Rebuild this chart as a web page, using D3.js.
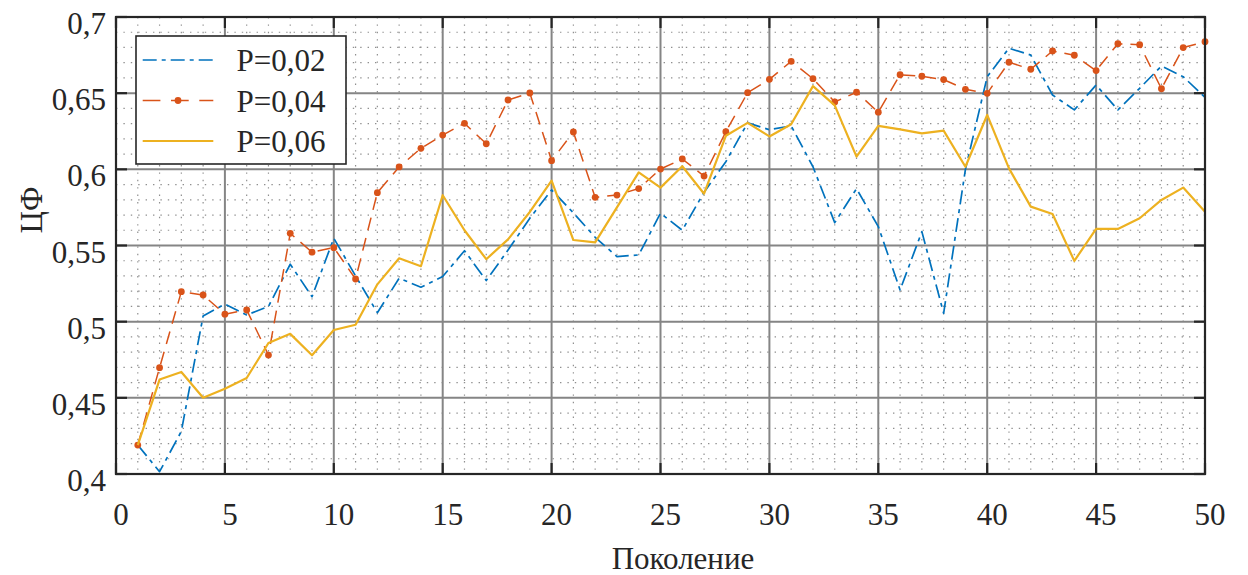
<!DOCTYPE html>
<html>
<head>
<meta charset="utf-8">
<script src="https://cdn.jsdelivr.net/npm/d3@7"></script>
<style>
  html, body { margin: 0; padding: 0; background: #fff; }
  svg { display: block; }
</style>
</head>
<body>
<svg id="chart" width="1248" height="575"></svg>
<script>
// Generation numbers
const generations = d3.range(1, 51);

// Objective value per generation for each mutation probability
const p002 = [0.419, 0.4015, 0.428, 0.5037, 0.5116, 0.5044, 0.510, 0.5377, 0.5164, 0.5548,
              0.530, 0.5059, 0.5285, 0.5226, 0.5296, 0.5466, 0.527, 0.547, 0.5679, 0.5865,
              0.5714, 0.5554, 0.5427, 0.5438, 0.5712, 0.560, 0.585, 0.605, 0.6305, 0.626,
              0.6285, 0.6017, 0.565, 0.5873, 0.5624, 0.5208, 0.5591, 0.5055, 0.600, 0.6608,
              0.6795, 0.675, 0.6488, 0.639, 0.6554, 0.639, 0.6532, 0.6678, 0.6608, 0.6473];

const p004 = [0.419, 0.4698, 0.5197, 0.5175, 0.5049, 0.5077, 0.4781, 0.558, 0.5456, 0.5486,
              0.528, 0.5847, 0.6016, 0.6138, 0.6225, 0.6302, 0.6168, 0.6455, 0.6501, 0.6057,
              0.6245, 0.5816, 0.5831, 0.5874, 0.6002, 0.6068, 0.5956, 0.6247, 0.6503, 0.6591,
              0.6709, 0.6595, 0.6442, 0.6506, 0.6375, 0.6621, 0.6611, 0.6589, 0.6525, 0.6499,
              0.6703, 0.6657, 0.6777, 0.6749, 0.6648, 0.6825, 0.6818, 0.6529, 0.6799, 0.6838];

const p006 = [0.419, 0.462, 0.467, 0.450, 0.456, 0.463, 0.486, 0.492, 0.478, 0.4945,
              0.498, 0.5245, 0.5416, 0.5364, 0.583, 0.560, 0.541, 0.554, 0.572, 0.5926,
              0.5536, 0.552, 0.575, 0.598, 0.588, 0.602, 0.584, 0.622, 0.6305, 0.6216,
              0.6296, 0.6546, 0.642, 0.6083, 0.6285, 0.6262, 0.6236, 0.6254, 0.6017, 0.6357,
              0.6006, 0.5755, 0.5707, 0.5399, 0.5609, 0.5609, 0.5679, 0.5799, 0.588, 0.5722];

const seriesNames = ["P=0,02", "P=0,04", "P=0,06"];
const xTicks = [0, 5, 10, 15, 20, 25, 30, 35, 40, 45, 50];
const yTicks = [0.4, 0.45, 0.5, 0.55, 0.6, 0.65, 0.7];
const yTickLabels = ["0,4", "0,45", "0,5", "0,55", "0,6", "0,65", "0,7"];

const series = [
  { name: seriesNames[0], values: p002, color: "#0072BD", width: 1.7, dash: "14,5,4,5", legendDash: "14,5,4,5", marker: false },
  { name: seriesNames[1], values: p004, color: "#D95319", width: 1.5, dash: "13,8", legendDash: "17.7,10.6", marker: true },
  { name: seriesNames[2], values: p006, color: "#EDB120", width: 2.2, dash: null, legendDash: null, marker: false }
];

const FONT = "'Liberation Serif', 'Times New Roman', serif";
const INK = "#262626";

const svg = d3.select("#chart");
const plotL = 116, plotR = 1205, plotT = 17, plotB = 474;

const x = d3.scaleLinear().domain([0, 50]).range([plotL, plotR]);
const y = d3.scaleLinear().domain([0.4, 0.7]).range([plotB, plotT]);

// Minor grid (dotted)
const minorX = d3.range(0, 51, 1).filter(v => v % 5 !== 0);
const minorY = d3.range(40, 71, 1).filter(v => v % 5 !== 0).map(v => v / 100);
const grid = svg.append("g");
grid.selectAll(".mx").data(minorX).join("line")
  .attr("x1", d => x(d)).attr("x2", d => x(d))
  .attr("y1", plotT).attr("y2", plotB)
  .attr("stroke", "#8f8f8f").attr("stroke-width", 1.2)
  .attr("stroke-dasharray", "1.4,6");
grid.selectAll(".my").data(minorY).join("line")
  .attr("x1", plotL).attr("x2", plotR)
  .attr("y1", d => y(d)).attr("y2", d => y(d))
  .attr("stroke", "#8f8f8f").attr("stroke-width", 1.2)
  .attr("stroke-dasharray", "1.4,6");

// Major grid
grid.selectAll(".gx").data(xTicks).join("line")
  .attr("x1", d => x(d)).attr("x2", d => x(d))
  .attr("y1", plotT).attr("y2", plotB)
  .attr("stroke", "#858585").attr("stroke-width", 2);
grid.selectAll(".gy").data(yTicks).join("line")
  .attr("x1", plotL).attr("x2", plotR)
  .attr("y1", d => y(d)).attr("y2", d => y(d))
  .attr("stroke", "#858585").attr("stroke-width", 2);

// Tick marks on all four sides, pointing inward
const ticks = svg.append("g").attr("stroke", INK).attr("stroke-width", 2.2);
const tl = 11;
ticks.selectAll(".tb").data(xTicks).join("line")
  .attr("x1", d => x(d)).attr("x2", d => x(d)).attr("y1", plotB).attr("y2", plotB - tl);
ticks.selectAll(".tt").data(xTicks).join("line")
  .attr("x1", d => x(d)).attr("x2", d => x(d)).attr("y1", plotT).attr("y2", plotT + tl);
ticks.selectAll(".tl").data(yTicks).join("line")
  .attr("x1", plotL).attr("x2", plotL + tl).attr("y1", d => y(d)).attr("y2", d => y(d));
ticks.selectAll(".tr").data(yTicks).join("line")
  .attr("x1", plotR).attr("x2", plotR - tl).attr("y1", d => y(d)).attr("y2", d => y(d));

// Data lines
const line = d3.line().x((d, i) => x(generations[i])).y(d => y(d));
const plot = svg.append("g");
series.forEach(s => {
  plot.append("path")
    .datum(s.values)
    .attr("d", line)
    .attr("fill", "none")
    .attr("stroke", s.color)
    .attr("stroke-width", s.width)
    .attr("stroke-linejoin", "round")
    .attr("stroke-dasharray", s.dash);
  if (s.marker) {
    plot.selectAll(null).data(s.values).join("circle")
      .attr("cx", (d, i) => x(generations[i]))
      .attr("cy", d => y(d))
      .attr("r", 3.4)
      .attr("fill", s.color);
  }
});

// Axes box
svg.append("rect")
  .attr("x", plotL).attr("y", plotT)
  .attr("width", plotR - plotL).attr("height", plotB - plotT)
  .attr("fill", "none").attr("stroke", INK).attr("stroke-width", 2.2);

// Text helper
function label(sel) {
  return sel.attr("font-family", FONT).attr("font-size", 31).attr("fill", INK);
}

// Tick labels
svg.append("g").selectAll("text").data(xTicks).join("text")
  .call(label)
  .attr("x", d => x(d) + 5)
  .attr("y", 525)
  .attr("text-anchor", "middle")
  .text(d => d);
svg.append("g").selectAll("text").data(yTicks).join("text")
  .call(label)
  .attr("x", 106)
  .attr("y", d => y(d) + 17)
  .attr("text-anchor", "end")
  .text((d, i) => yTickLabels[i]);

// Axis titles
svg.append("text").call(label)
  .attr("transform", "translate(42,210) rotate(-90)")
  .attr("text-anchor", "middle")
  .text("ЦФ");
svg.append("text").call(label)
  .attr("x", 683).attr("y", 569)
  .attr("text-anchor", "middle")
  .text("Поколение");

// Legend
const lg = svg.append("g");
lg.append("rect")
  .attr("x", 136).attr("y", 36).attr("width", 210).attr("height", 128)
  .attr("fill", "#fff").attr("stroke", INK).attr("stroke-width", 1.6);
const rowY = [60, 100.5, 141];
series.forEach((s, i) => {
  lg.append("line")
    .attr("x1", 142.7).attr("x2", 213.3)
    .attr("y1", rowY[i]).attr("y2", rowY[i])
    .attr("stroke", s.color).attr("stroke-width", s.width)
    .attr("stroke-dasharray", s.legendDash);
  if (s.marker) {
    lg.append("circle").attr("cx", 178).attr("cy", rowY[i]).attr("r", 3.4).attr("fill", s.color);
  }
  lg.append("text").call(label)
    .attr("x", 236.5).attr("y", rowY[i] + 11)
    .text(s.name);
});
</script>
</body>
</html>
